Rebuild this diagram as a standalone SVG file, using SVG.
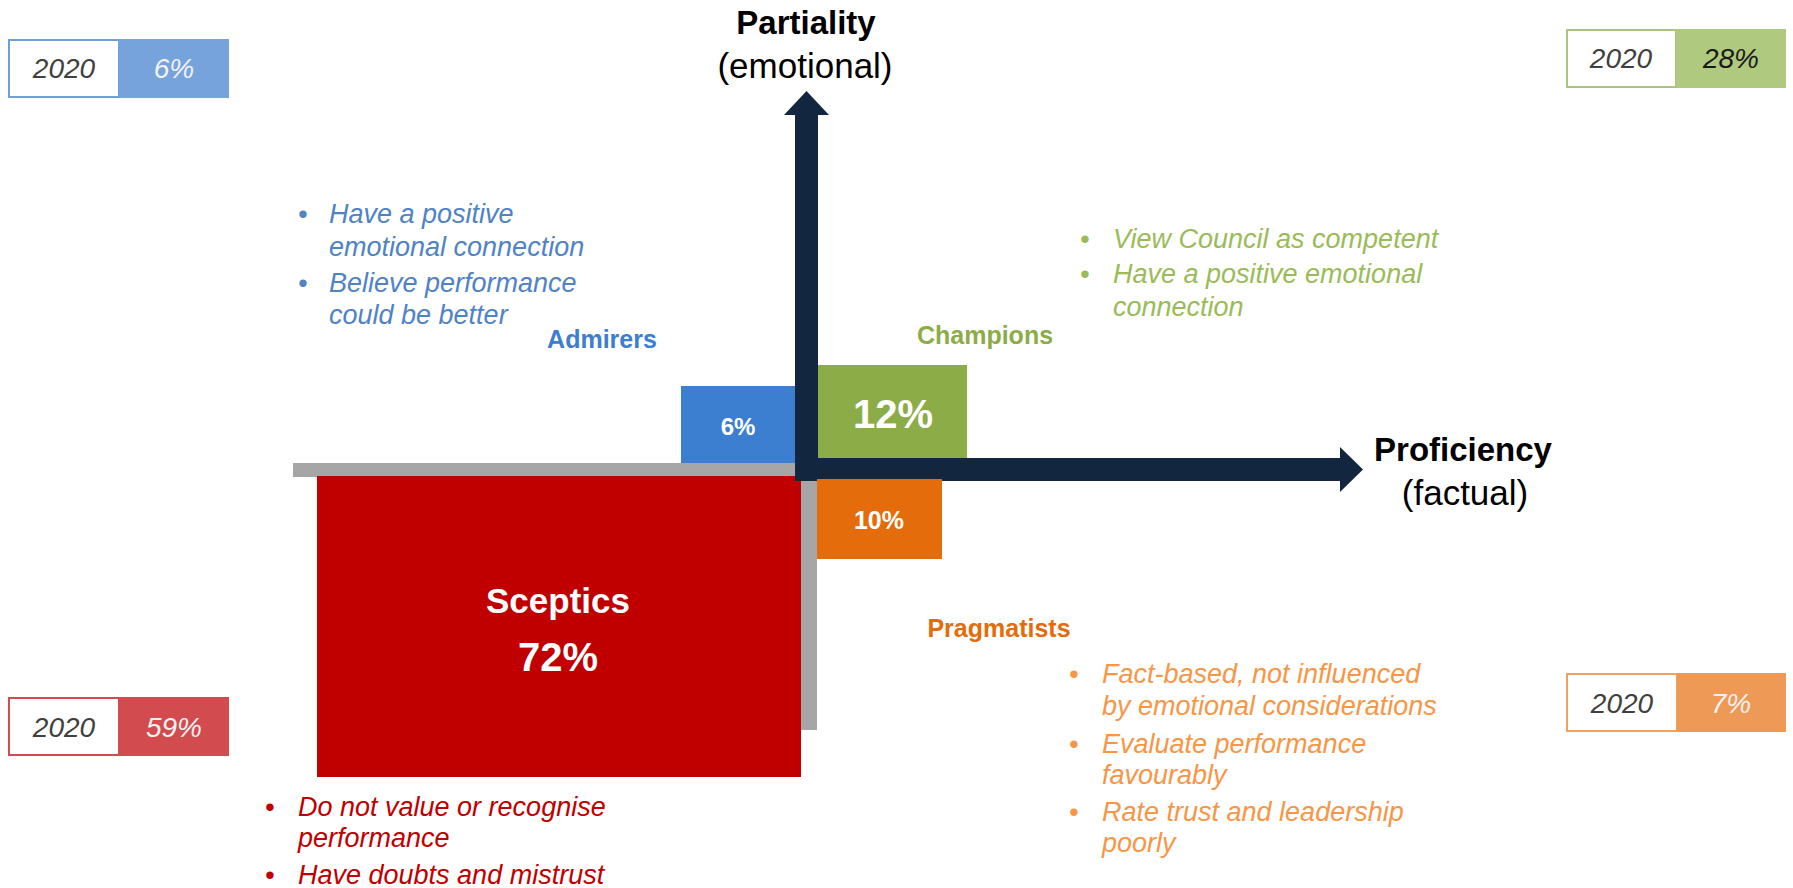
<svg xmlns="http://www.w3.org/2000/svg" width="1793" height="888" viewBox="0 0 1793 888">
<style>
text{font-family:"Liberation Sans",Arial,sans-serif}
.axis{font-size:33px;font-weight:bold;fill:#000}
.axisr{font-size:35px;fill:#000}
.lbl{font-size:25px;font-weight:bold}
.pct{font-weight:bold;fill:#fff;text-anchor:middle}
.bul{font-size:27px;font-style:italic}
.yr{font-size:28px;font-style:italic;fill:#404040;text-anchor:middle}
.yv{font-size:28px;font-style:italic;text-anchor:middle}
</style>
<rect width="1793" height="888" fill="#fff"/>

<g id="axes">
<rect x="293" y="463" width="508" height="14" fill="#A6A6A6"/>
<rect x="801" y="463" width="16" height="267" fill="#A6A6A6"/>
</g>

<g id="sceptics">
<rect x="317" y="476" width="484" height="301" fill="#C00000"/>
<text class="pct" x="558" y="613" font-size="35">Sceptics</text>
<text class="pct" x="558" y="671" font-size="40">72%</text>
<g class="bul" fill="#C00000">
<text x="265" y="816">•</text>
<text x="298" y="816">Do not value or recognise</text>
<text x="298" y="847">performance</text>
<text x="265" y="884">•</text>
<text x="298" y="884">Have doubts and mistrust</text>
</g>
</g>

<g id="admirers">
<rect x="681" y="386" width="114" height="77" fill="#3C7ECF"/>
<text class="pct" x="738" y="435" font-size="24">6%</text>
<text class="lbl" x="602" y="348" text-anchor="middle" fill="#3C7ECF">Admirers</text>
<g class="bul" fill="#4F83C6">
<text x="298" y="223">•</text>
<text x="329" y="223">Have a positive</text>
<text x="329" y="256">emotional connection</text>
<text x="298" y="292">•</text>
<text x="329" y="292">Believe performance</text>
<text x="329" y="324">could be better</text>
</g>
</g>

<g id="champions">
<rect x="818" y="365" width="149" height="93" fill="#8CAC48"/>
<text class="pct" x="893" y="428" font-size="40">12%</text>
<text class="lbl" x="985" y="344" text-anchor="middle" fill="#8CAC48">Champions</text>
<g class="bul" fill="#9BBB59">
<text x="1080" y="248">•</text>
<text x="1113" y="248">View Council as competent</text>
<text x="1080" y="283">•</text>
<text x="1113" y="283">Have a positive emotional</text>
<text x="1113" y="316">connection</text>
</g>
</g>

<g id="pragmatists">
<text class="lbl" x="999" y="637" text-anchor="middle" fill="#E46C0A">Pragmatists</text>
<g class="bul" fill="#F79646">
<text x="1069" y="683">•</text>
<text x="1102" y="683">Fact-based, not influenced</text>
<text x="1102" y="715">by emotional considerations</text>
<text x="1069" y="753">•</text>
<text x="1102" y="753">Evaluate performance</text>
<text x="1102" y="784">favourably</text>
<text x="1069" y="821">•</text>
<text x="1102" y="821">Rate trust and leadership</text>
<text x="1102" y="852">poorly</text>
</g>
</g>

<g id="connectors">
<rect x="795" y="112" width="23" height="369" fill="#13263F"/>
<polygon points="806.5,91 829,115 784,115" fill="#13263F"/>
<rect x="795" y="458" width="548" height="23" fill="#13263F"/>
<polygon points="1363,469.5 1340,447 1340,492" fill="#13263F"/>
</g>

<g id="pragmatists-box">
<rect x="817" y="479" width="125" height="80" fill="#E46C0A"/>
<text class="pct" x="879" y="529" font-size="25">10%</text>
</g>

<g id="axis-labels">
<text class="axis" x="806" y="34" text-anchor="middle">Partiality</text>
<text class="axisr" x="805" y="78" text-anchor="middle">(emotional)</text>
<text class="axis" x="1463" y="461" text-anchor="middle">Proficiency</text>
<text class="axisr" x="1465" y="505" text-anchor="middle">(factual)</text>
</g>

<g id="box2020-admirers">
<rect x="9" y="40" width="110" height="57" fill="#fff" stroke="#6F9FD8" stroke-width="2"/>
<rect x="119" y="39" width="110" height="59" fill="#76A3DB"/>
<text class="yr" x="64" y="78">2020</text>
<text class="yv" x="174" y="78" fill="#F2F2F2">6%</text>
</g>
<g id="box2020-champions">
<rect x="1567" y="30" width="109" height="57" fill="#fff" stroke="#A9C47F" stroke-width="2"/>
<rect x="1676" y="29" width="110" height="59" fill="#AFC97F"/>
<text class="yr" x="1621" y="68">2020</text>
<text class="yv" x="1731" y="68" fill="#1A1A1A">28%</text>
</g>
<g id="box2020-sceptics">
<rect x="9" y="698" width="110" height="57" fill="#fff" stroke="#D24B4E" stroke-width="2"/>
<rect x="119" y="697" width="110" height="59" fill="#D24B4E"/>
<text class="yr" x="64" y="737">2020</text>
<text class="yv" x="174" y="737" fill="#F2F2F2">59%</text>
</g>
<g id="box2020-pragmatists">
<rect x="1567" y="674" width="110" height="57" fill="#fff" stroke="#F0A060" stroke-width="2"/>
<rect x="1677" y="673" width="109" height="59" fill="#EE9A56"/>
<text class="yr" x="1622" y="713">2020</text>
<text class="yv" x="1731" y="713" fill="#F2F2F2">7%</text>
</g>
</svg>
